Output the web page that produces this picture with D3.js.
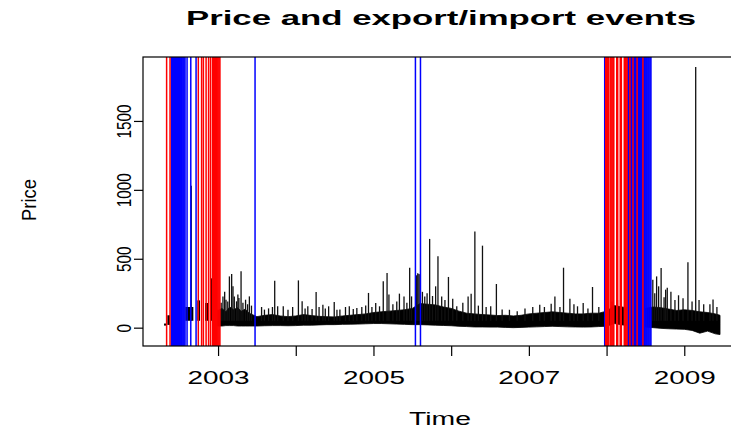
<!DOCTYPE html>
<html>
<head>
<meta charset="utf-8">
<script src="https://cdn.jsdelivr.net/npm/d3@7"></script>
<style>
  body { margin: 0; background: #fff; }
  svg { display: block; }
</style>
</head>
<body>
<div id="graf"></div>
<script>
// I. Datos (tiempo en anos decimales)
// banda diaria de precios: limite superior e inferior
bandaT  = [2002.95, 2003.0, 2003.05, 2003.1, 2003.15, 2003.2, 2003.25, 2003.3, 2003.35, 2003.4, 2003.5, 2003.6, 2003.7, 2003.8, 2003.9,
           2004.0, 2004.1, 2004.2, 2004.3, 2004.4, 2004.5, 2004.6, 2004.7, 2004.8, 2004.9,
           2005.0, 2005.1, 2005.2, 2005.3, 2005.4, 2005.5, 2005.6, 2005.7, 2005.8, 2005.9,
           2006.0, 2006.1, 2006.2, 2006.3, 2006.4, 2006.5, 2006.6, 2006.7, 2006.8, 2006.9,
           2007.0, 2007.1, 2007.2, 2007.3, 2007.4, 2007.5, 2007.6, 2007.7, 2007.8, 2007.9,
           2008.0, 2008.1, 2008.2, 2008.3, 2008.4, 2008.5, 2008.6, 2008.7, 2008.8, 2008.9,
           2009.0, 2009.1, 2009.2, 2009.3, 2009.4, 2009.46]
bandaAlta = [140, 125, 140, 115, 150, 130, 145, 120, 135, 105, 80, 90, 95, 85, 80,
             85, 95, 88, 82, 80, 78, 85, 90, 95, 100,
             110, 115, 120, 125, 130, 140, 175, 170, 165, 150,
             140, 120, 105, 100, 95, 92, 88, 90, 85, 90,
             100, 105, 110, 115, 110, 105, 100, 100, 105, 105,
             120, 160, 150, 140, 140, 140, 150, 145, 135, 125,
             130, 125, 115, 110, 100, 90]
bandaBaja = [15, 12, 12, 15, 15, 15, 12, 12, 12, 12, 12, 14, 15, 15, 14,
             15, 18, 18, 20, 22, 22, 24, 25, 26, 28,
             30, 30, 28, 26, 24, 22, 22, 20, 18, 16,
             14, 10, 8, 5, 5, 4, 4, 2, 0, 2,
             4, 6, 8, 10, 8, 6, 5, 4, 5, 8,
             10, 30, 20, 15, 10, 5, 0, -5, -8, -10,
             -12, -20, -40, -25, -45, -50]

// observaciones sueltas de 2002
bloqueIni  = [2002.305, 2002.347, 2002.579, 2002.733, 2002.833, 2002.906]
bloqueFin  = [2002.340, 2002.382, 2002.682, 2002.768, 2002.875, 2002.932]
bloqueBajo = [15, 20, 50, 50, 50, 50]
bloqueAlto = [30, 90, 150, 198, 179, 358]

// picos de precio
picoT = [2002.655, 2003.040, 2003.063, 2003.085, 2003.102, 2003.125, 2003.146, 2003.175, 2003.192, 2003.209,
         2003.238, 2003.255, 2003.268, 2003.296, 2003.320, 2003.354, 2003.380, 2003.403, 2003.430, 2003.560,
         2003.597, 2003.650, 2003.700, 2003.729, 2003.767, 2003.839, 2003.900, 2003.960, 2004.034, 2004.082,
         2004.120, 2004.155, 2004.210, 2004.262, 2004.300, 2004.349, 2004.380, 2004.423, 2004.495, 2004.530,
         2004.568, 2004.640, 2004.689, 2004.740, 2004.786, 2004.850, 2004.900, 2004.936, 2004.980, 2005.029,
         2005.078, 2005.126, 2005.175, 2005.199, 2005.250, 2005.300, 2005.334, 2005.393, 2005.430, 2005.466,
         2005.49, 2005.555, 2005.57, 2005.585, 2005.6, 2005.63, 2005.66, 2005.690, 2005.723, 2005.760,
         2005.800, 2005.83, 2005.878, 2005.920, 2005.965, 2006.020, 2006.072, 2006.150, 2006.218, 2006.257,
         2006.305, 2006.350, 2006.403, 2006.450, 2006.509, 2006.582, 2006.656, 2006.750, 2006.850, 2006.950,
         2007.050, 2007.140, 2007.200, 2007.287, 2007.335, 2007.400, 2007.446, 2007.528, 2007.580, 2007.626,
         2007.699, 2007.760, 2007.819, 2007.900, 2008.07, 2008.14,
         2008.595, 2008.620, 2008.644, 2008.670, 2008.702, 2008.740, 2008.76, 2008.781, 2008.828, 2008.880,
         2008.926, 2008.984, 2009.047, 2009.100, 2009.147, 2009.19, 2009.25, 2009.33, 2009.37, 2009.42]
picoV = [1030, 180, 227, 260, 203, 190, 372, 390, 300, 227,
         191, 240, 215, 409, 180, 203, 170, 227, 160, 150,
         131, 140, 150, 341, 155, 155, 130, 150, 343, 191,
         140, 155, 135, 259, 150, 167, 140, 155, 186, 130,
         131, 150, 155, 135, 143, 150, 160, 252, 150, 179,
         155, 336, 397, 240, 170, 190, 247, 227, 180, 435,
         227, 380, 395, 390, 385, 260, 227, 250, 644, 230,
         300, 518, 227, 200, 368, 210, 155, 180, 227, 247,
         697, 160, 595, 150, 155, 317, 131, 130, 120, 140,
         150, 167, 150, 174, 227, 150, 435, 210, 170, 155,
         179, 140, 295, 150, 190, 200,
         348, 250, 372, 300, 433, 220, 276, 290, 261, 200,
         235, 213, 474, 190, 1892, 200, 170, 170, 205, 150]

// eventos: exportacion (rojo) e importacion (azul)
exportaciones = [2002.338, 2002.382, 2002.746, 2002.788, 2002.811, 2002.846, 2002.878, 2002.903,
                 2002.929, 2002.941, 2002.953, 2002.965, 2002.977, 2002.989, 2003.001, 2003.013, 2003.024,
                 2007.989, 2008.001, 2008.013, 2008.024, 2008.046, 2008.058, 2008.070, 2008.082, 2008.093,
                 2008.131, 2008.143, 2008.176, 2008.190, 2008.228, 2008.240, 2008.252, 2008.264,
                 2008.300, 2008.340, 2008.393, 2008.468]
importaciones = [2002.401, 2002.413, 2002.426, 2002.438, 2002.451, 2002.463, 2002.476, 2002.488,
                 2002.501, 2002.513, 2002.526, 2002.538, 2002.551, 2002.563, 2002.575,
                 2002.601, 2002.649, 2002.717, 2003.476, 2005.540, 2005.605, 2007.976,
                 2008.272, 2008.285, 2008.297, 2008.310, 2008.322, 2008.335, 2008.347, 2008.360,
                 2008.372, 2008.385, 2008.397, 2008.410, 2008.422, 2008.435, 2008.447, 2008.460,
                 2008.472, 2008.485, 2008.497, 2008.510, 2008.522, 2008.535, 2008.547, 2008.560, 2008.571]

anios   = [2003, 2004, 2005, 2006, 2007, 2008, 2009]
precios = [0, 500, 1000, 1500]

// II. Configuracion
ancho_total = 731
alto_total = 429
fuente = "'Liberation Sans', Arial, Helvetica, sans-serif"

svg = d3.select('#graf').append('svg')
        .attr('width', ancho_total)
        .attr('height', alto_total)

x = d3.scaleLinear().domain([2002.034, 2009.73]).range([143, 741])
y = d3.scaleLinear().domain([-133, 1964]).range([346, 57])

g = svg.append('g')

// banda de precios
area = d3.area()
         .x((d, i) => x(bandaT[i]))
         .y0((d, i) => y(bandaBaja[i]))
         .y1((d, i) => y(bandaAlta[i]))
g.append('path')
  .datum(bandaT)
  .attr('d', area)
  .attr('fill', '#000')
  .attr('stroke', '#000')
  .attr('stroke-width', 0.8)

g.selectAll('rect.bloque')
  .data(bloqueIni)
  .join('rect')
    .attr('class', 'bloque')
    .attr('x', (d, i) => x(d))
    .attr('width', (d, i) => x(bloqueFin[i]) - x(d))
    .attr('y', (d, i) => y(bloqueAlto[i]))
    .attr('height', (d, i) => y(bloqueBajo[i]) - y(bloqueAlto[i]))
    .attr('fill', '#000')

g.selectAll('line.pico')
  .data(picoT)
  .join('line')
    .attr('class', 'pico')
    .attr('x1', d => x(d))
    .attr('x2', d => x(d))
    .attr('y1', y(50))
    .attr('y2', (d, i) => y(picoV[i]))
    .attr('stroke', '#111')
    .attr('stroke-width', 1.3)

// lineas de eventos (azul primero, rojo encima)
g.selectAll('line.imp')
  .data(importaciones)
  .join('line')
    .attr('class', 'imp')
    .attr('x1', d => x(d)).attr('x2', d => x(d))
    .attr('y1', 57).attr('y2', 346)
    .attr('stroke', '#0000ff')
    .attr('stroke-width', 1.5)

g.selectAll('line.exp')
  .data(exportaciones)
  .join('line')
    .attr('class', 'exp')
    .attr('x1', d => x(d)).attr('x2', d => x(d))
    .attr('y1', 57).attr('y2', 346)
    .attr('stroke', '#ff0000')
    .attr('stroke-width', 1.5)

// caja
svg.append('rect')
   .attr('x', 143).attr('y', 57)
   .attr('width', 741 - 143).attr('height', 346 - 57)
   .attr('fill', 'none')
   .attr('stroke', '#000')
   .attr('stroke-width', 1.2)

// III. Ejes
xAxisCall = d3.axisBottom(x)
              .tickValues(anios)
              .tickSize(10)
              .tickFormat(d => (d % 2 == 1) ? d : '')
xAxisGroup = svg.append('g')
                .attr('transform', 'translate(0, 346)')
                .call(xAxisCall)
xAxisGroup.select('.domain').remove()
xAxisGroup.selectAll('line').attr('stroke', '#000').attr('stroke-width', 1.2)
xAxisGroup.selectAll('text')
          .attr('y', 38)
          .attr('dy', null)
          .attr('fill', '#000')
          .style('font-family', fuente)
          .style('font-size', '18px')
          .attr('textLength', 62)
          .attr('lengthAdjust', 'spacingAndGlyphs')

yAxisCall = d3.axisLeft(y)
              .tickValues(precios)
              .tickSize(9)
              .tickFormat(d3.format('d'))
yAxisGroup = svg.append('g')
                .attr('transform', 'translate(143, 0)')
                .call(yAxisCall)
yAxisGroup.select('.domain').remove()
yAxisGroup.selectAll('line').attr('stroke', '#000').attr('stroke-width', 1.2)
yAxisGroup.selectAll('text')
          .attr('transform', 'rotate(-90)')
          .attr('x', 0)
          .attr('y', -12)
          .attr('dy', null)
          .attr('text-anchor', 'middle')
          .attr('fill', '#000')
          .style('font-family', fuente)
          .style('font-size', '20px')
          .attr('textLength', d => String(d).length * 8.5)
          .attr('lengthAdjust', 'spacingAndGlyphs')

// titulos
svg.append('text')
   .attr('x', 441).attr('y', 25)
   .attr('text-anchor', 'middle')
   .style('font-family', fuente)
   .style('font-weight', 'bold')
   .style('font-size', '21px')
   .attr('textLength', 510)
   .attr('lengthAdjust', 'spacingAndGlyphs')
   .text('Price and export/import events')

svg.append('text')
   .attr('x', 440).attr('y', 425)
   .attr('text-anchor', 'middle')
   .style('font-family', fuente)
   .style('font-size', '18px')
   .attr('textLength', 62)
   .attr('lengthAdjust', 'spacingAndGlyphs')
   .text('Time')

svg.append('text')
   .attr('transform', 'translate(36, 200) rotate(-90)')
   .attr('text-anchor', 'middle')
   .style('font-family', fuente)
   .style('font-size', '20px')
   .attr('textLength', 42)
   .attr('lengthAdjust', 'spacingAndGlyphs')
   .text('Price')
</script>
</body>
</html>
